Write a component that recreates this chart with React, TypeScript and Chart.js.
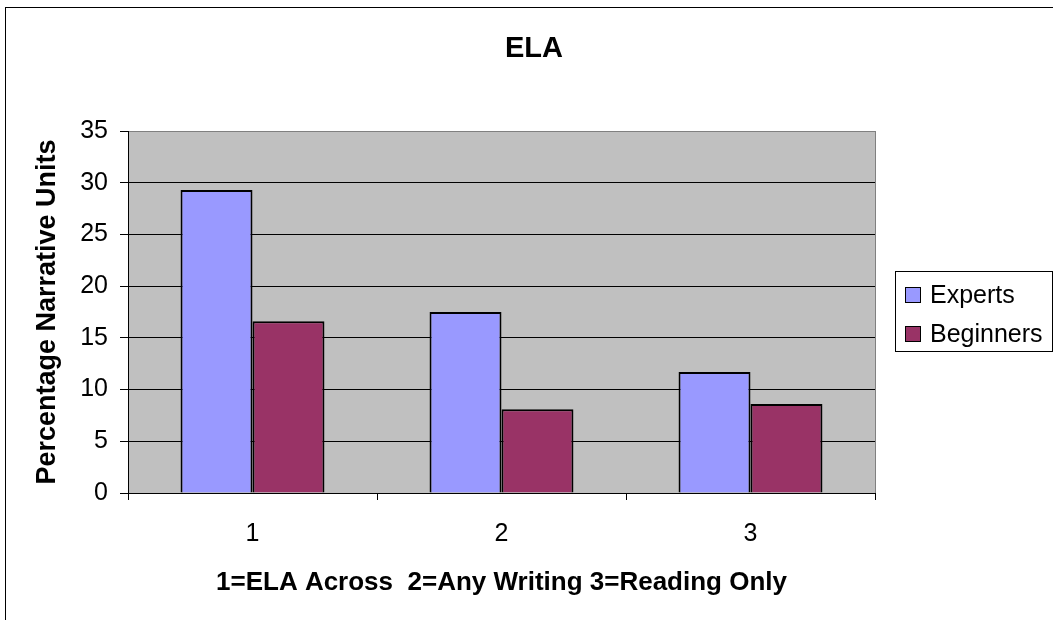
import React, { useEffect, useRef } from "react";
import { Chart, registerables } from "chart.js";

Chart.register(...registerables);

const categories = ["1", "2", "3"];
const seriesNames = ["Experts", "Beginners"];
const expertsValues = [29.3, 17.5, 11.7];
const beginnersValues = [16.6, 8.1, 8.6];
const seriesColors = ["#9999FF", "#993366"];
const chartTitle = "ELA";
const yAxisTitle = "Percentage Narrative Units";
const xAxisTitle = "1=ELA Across  2=Any Writing 3=Reading Only";
const yMin = 0;
const yMax = 35;
const yStep = 5;

const FONT = "'Liberation Sans', Arial, sans-serif";

const decorPlugin = {
  id: "decor",
  beforeDraw(chart: any) {
    const { ctx, chartArea } = chart;
    ctx.save();
    ctx.fillStyle = "#FFFFFF";
    ctx.fillRect(0, 0, chart.width, chart.height);
    ctx.fillStyle = "#C0C0C0";
    ctx.fillRect(chartArea.left, chartArea.top, chartArea.right - chartArea.left, chartArea.bottom - chartArea.top);
    ctx.restore();
  },
  afterDraw(chart: any) {
    const { ctx, chartArea } = chart;
    ctx.save();
    // outer frame
    ctx.strokeStyle = "#000000";
    ctx.lineWidth = 1;
    ctx.strokeRect(5.5, 7.5, 1200, 800);
    // plot border right (gray)
    ctx.strokeStyle = "#808080";
    ctx.beginPath();
    ctx.moveTo(Math.round(chartArea.right) + 0.5, chartArea.top);
    ctx.lineTo(Math.round(chartArea.right) + 0.5, chartArea.bottom);
    ctx.stroke();
    // title
    ctx.fillStyle = "#000000";
    ctx.font = `bold 29px ${FONT}`;
    ctx.textAlign = "center";
    ctx.textBaseline = "middle";
    ctx.fillText(chartTitle, 534, 49);
    // legend
    const lx = 895.5, ly = 271.5, lw = 157, lh = 80;
    ctx.strokeStyle = "#000000";
    ctx.lineWidth = 1;
    ctx.strokeRect(lx, ly, lw, lh);
    ctx.font = `25px ${FONT}`;
    ctx.textAlign = "left";
    ctx.textBaseline = "alphabetic";
    const ds = chart.data.datasets;
    const rowBase = [303, 342];
    ds.forEach((d: any, i: number) => {
      const base = rowBase[i];
      ctx.fillStyle = d.backgroundColor;
      ctx.fillRect(905, base - 15, 15, 15);
      ctx.strokeStyle = "#000000";
      ctx.strokeRect(905.5, base - 15.5, 15, 15);
      ctx.fillStyle = "#000000";
      ctx.fillText(d.label, 930, base);
    });
    ctx.restore();
  },
};

export default function App() {
  const canvasRef = useRef<HTMLCanvasElement | null>(null);

  useEffect(() => {
    const canvas = canvasRef.current;
    if (!canvas) return;
    const chart = new Chart(canvas, {
      type: "bar",
      data: {
        labels: categories,
        datasets: [
          {
            label: seriesNames[0],
            data: expertsValues,
            backgroundColor: seriesColors[0],
            borderColor: "#000000",
            borderWidth: 2,
            categoryPercentage: 0.578,
            barPercentage: 1,
          },
          {
            label: seriesNames[1],
            data: beginnersValues,
            backgroundColor: seriesColors[1],
            borderColor: "#000000",
            borderWidth: 2,
            categoryPercentage: 0.578,
            barPercentage: 1,
          },
        ],
      },
      options: {
        responsive: false,
        animation: false,
        devicePixelRatio: 1,
        layout: { padding: { left: 0, top: 131, right: 178, bottom: 0 } },
        plugins: {
          legend: { display: false },
          title: { display: false },
          tooltip: { enabled: false },
        },
        scales: {
          x: {
            afterFit: (scale: any) => {
              scale.height = 127;
            },
            grid: {
              display: true,
              drawOnChartArea: false,
              offset: true,
              tickLength: 7,
              color: "#000000",
            },
            border: { display: true, color: "#000000", width: 1 },
            ticks: {
              color: "#000000",
              padding: 19,
              font: { family: FONT, size: 25 },
            },
            title: {
              display: true,
              text: xAxisTitle,
              color: "#000000",
              font: { family: FONT, size: 26, weight: "bold" },
              padding: { top: 0, bottom: 22 },
            },
          },
          y: {
            min: yMin,
            max: yMax,
            afterFit: (scale: any) => {
              scale.width = 128;
            },
            grid: {
              color: (ctx: any) => (ctx.tick && ctx.tick.value === yMax ? "#808080" : "#000000"),
              tickColor: "#000000",
              tickLength: 8,
            },
            border: { display: true, color: "#000000", width: 1 },
            ticks: {
              stepSize: yStep,
              color: "#000000",
              padding: 12,
              font: { family: FONT, size: 25 },
            },
            title: {
              display: true,
              text: yAxisTitle,
              color: "#000000",
              font: { family: FONT, size: 27, weight: "bold" },
              padding: { top: 31, bottom: 0 },
            },
          },
        },
      },
      plugins: [decorPlugin],
    });
    return () => chart.destroy();
  }, []);

  return (
    <div style={{ position: "absolute", left: 0, top: 0, width: 1053, height: 620 }}>
      <canvas ref={canvasRef} width={1053} height={620} style={{ display: "block" }} />
    </div>
  );
}
